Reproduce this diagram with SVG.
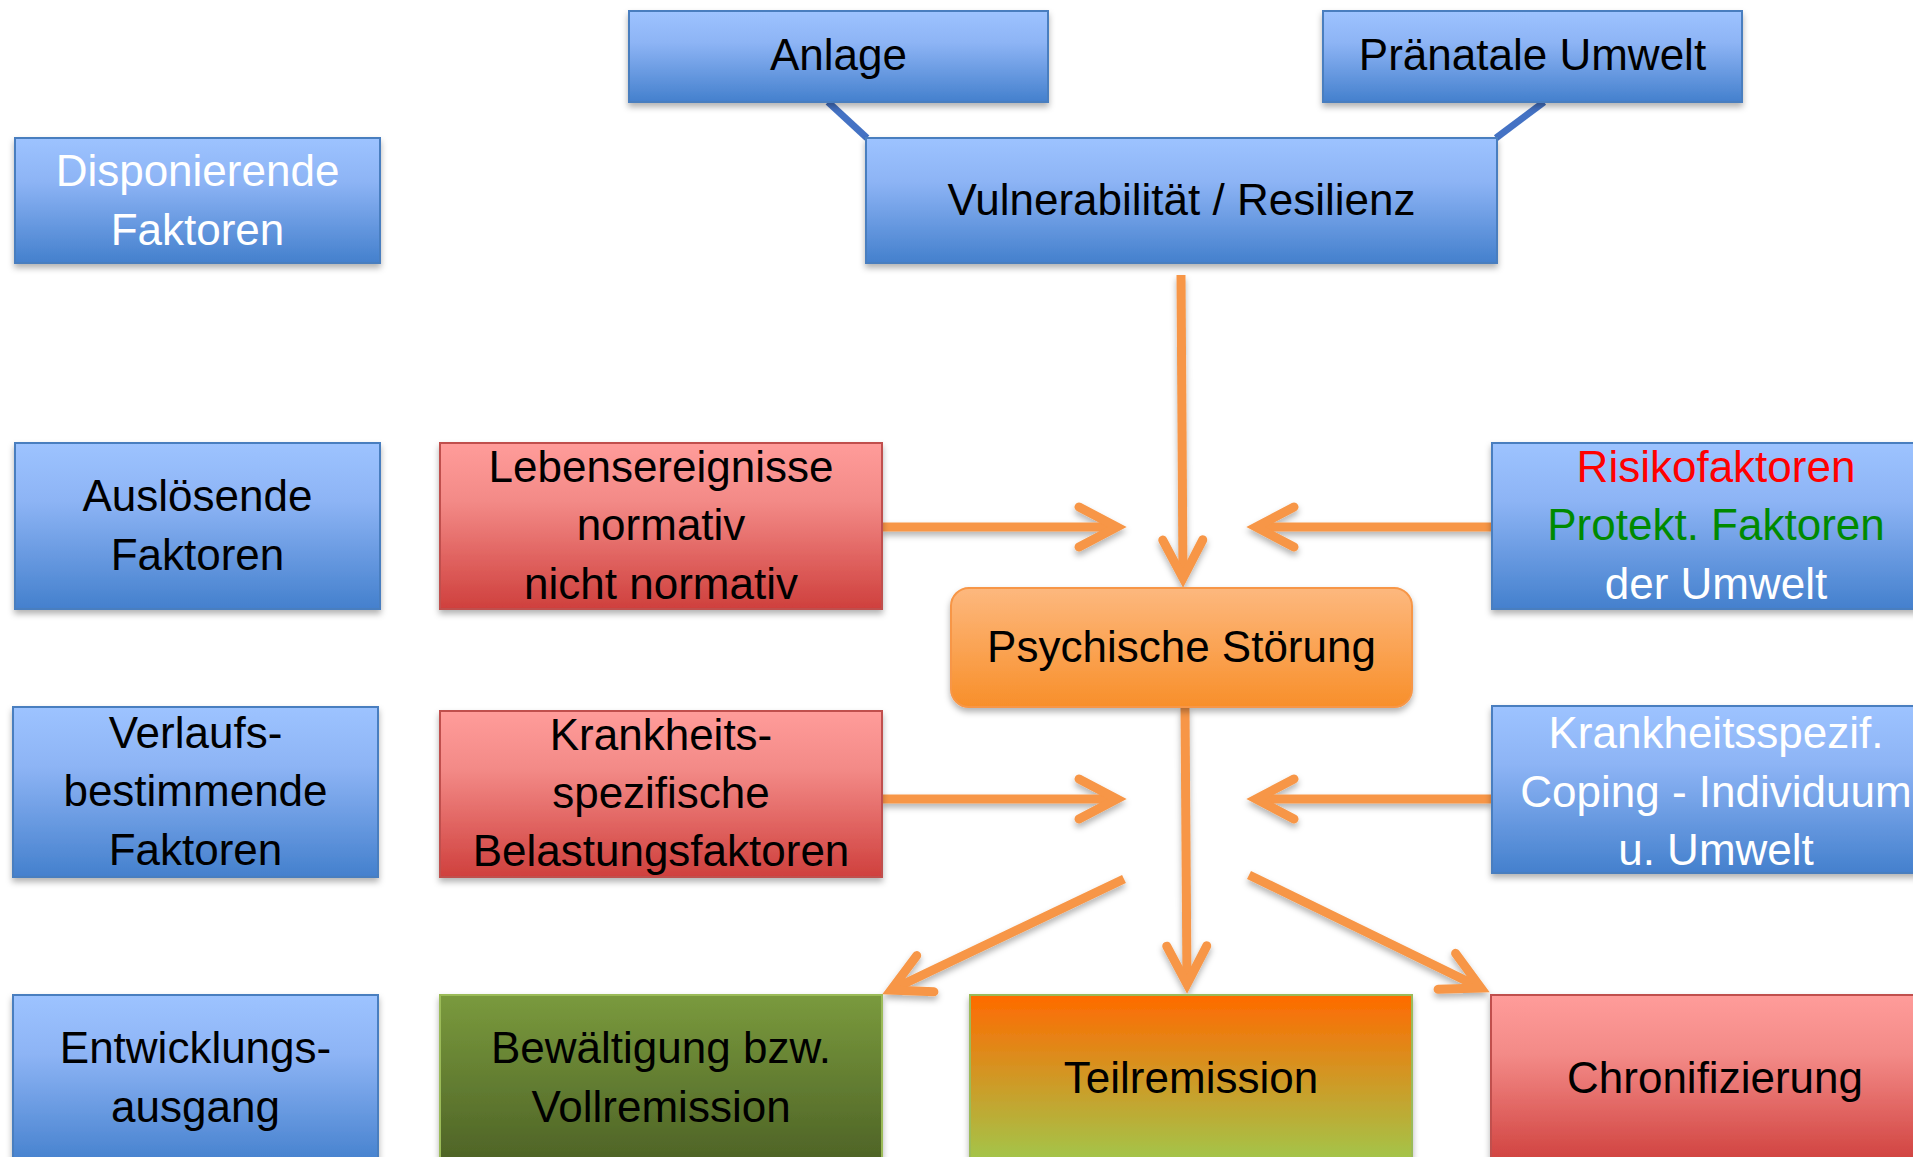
<svg xmlns="http://www.w3.org/2000/svg" width="1913" height="1157" viewBox="0 0 1913 1157">
<style>
.t{font-family:"Liberation Sans",Arial,sans-serif;font-size:44px;text-anchor:middle;}
.w{fill:#ffffff;}
.k{fill:#000000;}
.blue{fill:url(#gBlue);stroke:#4A7EBF;stroke-width:2;}
.red{fill:url(#gRed);stroke:#C0504D;stroke-width:2;}
.grn{fill:url(#gGreen);stroke:#9BBB59;stroke-width:2;}
.teil{fill:url(#gTeil);stroke:#9BBB59;stroke-width:2;}
.org{fill:url(#gOrange);stroke:#F79646;stroke-width:2;}
.arr{fill:none;stroke:#F79646;stroke-width:9;marker-end:url(#ah);}
.bl{fill:none;stroke:#4472C4;stroke-width:7;}
</style>
<defs>
<linearGradient id="gBlue" x1="0" y1="0" x2="0" y2="1">
<stop offset="0" stop-color="#9DC3FF"/><stop offset="0.35" stop-color="#8DB4F5"/><stop offset="1" stop-color="#4480CD"/>
</linearGradient>
<linearGradient id="gRed" x1="0" y1="0" x2="0" y2="1">
<stop offset="0" stop-color="#FF9C9A"/><stop offset="0.35" stop-color="#F38A87"/><stop offset="1" stop-color="#CF403D"/>
</linearGradient>
<linearGradient id="gGreen" x1="0" y1="0" x2="0" y2="1">
<stop offset="0" stop-color="#7A9A3D"/><stop offset="1" stop-color="#4D6226"/>
</linearGradient>
<linearGradient id="gTeil" x1="0" y1="0" x2="0" y2="1">
<stop offset="0" stop-color="#FF6A00"/><stop offset="1" stop-color="#A0C84C"/>
</linearGradient>
<linearGradient id="gOrange" x1="0" y1="0" x2="0" y2="1">
<stop offset="0" stop-color="#FDB87E"/><stop offset="1" stop-color="#F88F2A"/>
</linearGradient>
<filter id="sh" x="-10%" y="-10%" width="120%" height="130%">
<feDropShadow dx="0" dy="4" stdDeviation="3" flood-color="#000" flood-opacity="0.3"/>
</filter>
<marker id="ah" markerUnits="userSpaceOnUse" orient="auto" overflow="visible" markerWidth="1" markerHeight="1" refX="0" refY="0">
<path d="M-38,-20 L0,0 L-38,20" fill="none" stroke="#F79646" stroke-width="9" stroke-linecap="round" stroke-linejoin="miter"/>
</marker>
</defs>

<g id="connectors">
<line class="bl" x1="828" y1="102" x2="867" y2="138"/>
<line class="bl" x1="1544" y1="102" x2="1496" y2="138"/>
<g filter="url(#sh)">
<line class="arr" x1="1181" y1="275" x2="1183" y2="578"/>
<line class="arr" x1="882" y1="527" x2="1117" y2="527"/>
<line class="arr" x1="1492" y1="527" x2="1256" y2="527"/>
<line class="arr" x1="1185" y1="707" x2="1187" y2="984"/>
<line class="arr" x1="882" y1="799" x2="1117" y2="799"/>
<line class="arr" x1="1492" y1="799" x2="1256" y2="799"/>
<line class="arr" x1="1124" y1="879" x2="891" y2="990"/>
<line class="arr" x1="1249" y1="875" x2="1481" y2="988"/>
</g>
</g>

<g id="node-disponierende">
<rect class="blue" x="15" y="138" width="365" height="125" filter="url(#sh)"/>
<text class="t w"><tspan x="197.5" y="186">Disponierende</tspan><tspan x="197.5" y="245">Faktoren</tspan></text>
</g>
<g id="node-ausloesende">
<rect class="blue" x="15" y="443" width="365" height="166" filter="url(#sh)"/>
<text class="t k"><tspan x="197.5" y="511">Auslösende</tspan><tspan x="197.5" y="570">Faktoren</tspan></text>
</g>
<g id="node-verlaufs">
<rect class="blue" x="13" y="707" width="365" height="170" filter="url(#sh)"/>
<text class="t k"><tspan x="195.5" y="748">Verlaufs-</tspan><tspan x="195.5" y="806">bestimmende</tspan><tspan x="195.5" y="865">Faktoren</tspan></text>
</g>
<g id="node-entwicklung">
<rect class="blue" x="13" y="995" width="365" height="170" filter="url(#sh)"/>
<text class="t k"><tspan x="195.5" y="1063">Entwicklungs-</tspan><tspan x="195.5" y="1122">ausgang</tspan></text>
</g>

<g id="node-lebensereignisse">
<rect class="red" x="440" y="443" width="442" height="166" filter="url(#sh)"/>
<text class="t k"><tspan x="661" y="482">Lebensereignisse</tspan><tspan x="661" y="540">normativ</tspan><tspan x="661" y="599">nicht normativ</tspan></text>
</g>
<g id="node-krankheits">
<rect class="red" x="440" y="711" width="442" height="166" filter="url(#sh)"/>
<text class="t k"><tspan x="661" y="750">Krankheits-</tspan><tspan x="661" y="808">spezifische</tspan><tspan x="661" y="866">Belastungsfaktoren</tspan></text>
</g>
<g id="node-bewaeltigung">
<rect class="grn" x="440" y="995" width="442" height="170" filter="url(#sh)"/>
<text class="t k"><tspan x="661" y="1063">Bewältigung bzw.</tspan><tspan x="661" y="1122">Vollremission</tspan></text>
</g>

<g id="node-anlage">
<rect class="blue" x="629" y="11" width="419" height="91" filter="url(#sh)"/>
<text class="t k" x="838.5" y="70">Anlage</text>
</g>
<g id="node-praenatale">
<rect class="blue" x="1323" y="11" width="419" height="91" filter="url(#sh)"/>
<text class="t k" x="1532.5" y="70">Pränatale Umwelt</text>
</g>
<g id="node-vulnerabilitaet">
<rect class="blue" x="866" y="138" width="631" height="125" filter="url(#sh)"/>
<text class="t k" x="1181.5" y="215">Vulnerabilität / Resilienz</text>
</g>

<g id="node-psychische-stoerung">
<rect class="org" x="951" y="588" width="461" height="119" rx="18" ry="18" filter="url(#sh)"/>
<text class="t k" x="1181.5" y="662">Psychische Störung</text>
</g>

<g id="node-risikofaktoren">
<rect class="blue" x="1492" y="443" width="448" height="166" filter="url(#sh)"/>
<text class="t"><tspan x="1716" y="482" fill="#FF0000">Risikofaktoren</tspan><tspan x="1716" y="540" fill="#008A00">Protekt. Faktoren</tspan><tspan x="1716" y="599" fill="#FFFFFF">der Umwelt</tspan></text>
</g>
<g id="node-coping">
<rect class="blue" x="1492" y="706" width="448" height="167" filter="url(#sh)"/>
<text class="t w"><tspan x="1716" y="748">Krankheitsspezif.</tspan><tspan x="1716" y="807">Coping - Individuum</tspan><tspan x="1716" y="865">u. Umwelt</tspan></text>
</g>

<g id="node-teilremission">
<rect class="teil" x="970" y="995" width="442" height="170" filter="url(#sh)"/>
<text class="t k" x="1191" y="1093">Teilremission</text>
</g>
<g id="node-chronifizierung">
<rect class="red" x="1491" y="995" width="448" height="170" filter="url(#sh)"/>
<text class="t k" x="1715" y="1093">Chronifizierung</text>
</g>
</svg>
